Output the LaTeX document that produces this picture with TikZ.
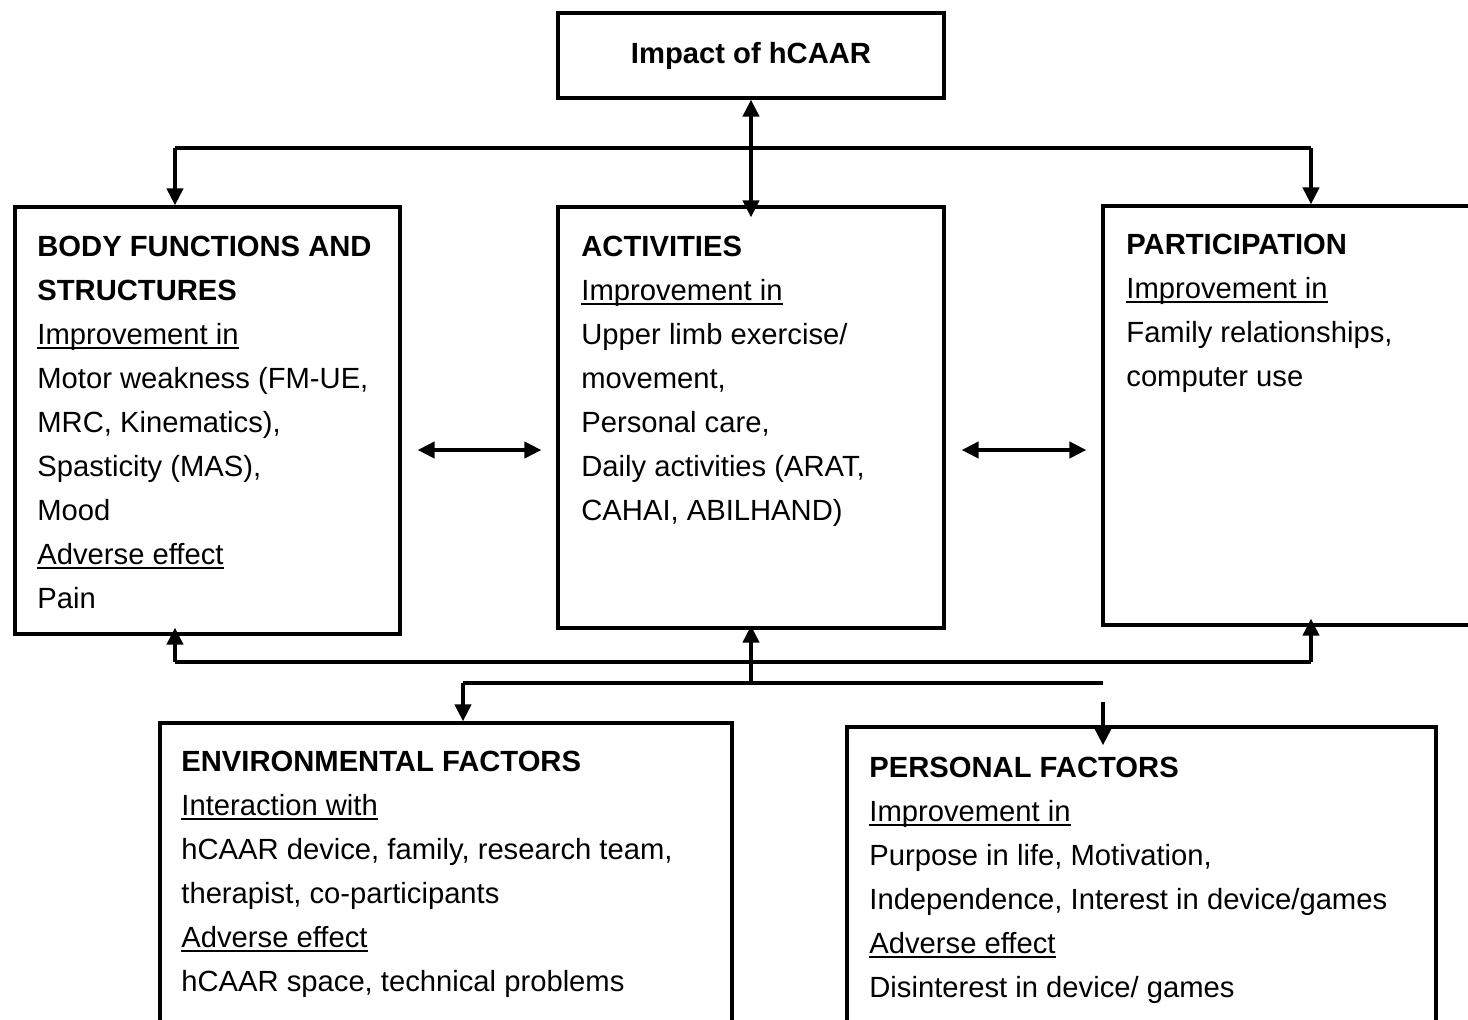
\documentclass[tikz,border=0pt]{standalone}
\usepackage{fontspec}
\setmainfont{Liberation Sans}
\usetikzlibrary{arrows.meta,fit,calc}
\newcommand\uln[1]{\setbox0\hbox{#1}\rlap{\rule[-2.3pt]{\wd0}{1.1pt}}\box0}
\newcommand\topstrut{\rule{0pt}{15pt}}
\tikzset{
  box/.style={draw, line width=1.6pt, inner sep=0pt},
  txt/.style={anchor=north west, inner sep=0pt, align=left,
    font=\fontsize{14.6pt}{22pt}\selectfont},
  conn/.style={line width=2pt},
  arr/.style={conn, -{Triangle[width=8pt,length=8.5pt]}},
  darr/.style={conn, {Triangle[width=8pt,length=8.5pt]}-{Triangle[width=8pt,length=8.5pt]}},
}
\begin{document}
\begin{tikzpicture}[x=0.5pt,y=-0.5pt]
\useasboundingbox (0,0) rectangle (1468,1019);
\clip (0,0) rectangle (1468,1019);
% boxes
\node[box, fit={(558,13) (944,98)}] (top) {};
\node[font=\fontsize{14.6pt}{22pt}\selectfont\bfseries] (toptxt) at (751,56) {Impact of hCAAR};
\node[box, fit={(15,207) (400,634)}] (body) {};
\node[box, fit={(558,207) (944,628)}] (act) {};
\node[box, fit={(1103,206) (1500,625)}] (part) {};
\node[box, fit={(160,723) (732,1060)}] (env) {};
\node[box, fit={(847,727) (1436,1060)}] (pers) {};
% texts
\node[txt] (bodytxt) at (37,226) {\topstrut\textbf{BODY FUNCTIONS AND}\\
\textbf{STRUCTURES}\\
\uln{Improvement in}\\
Motor weakness (FM-UE,\\
MRC, Kinematics),\\
Spasticity (MAS),\\
Mood\\
\uln{Adverse effect}\\
Pain};
\node[txt] (acttxt) at (581,226) {\topstrut\textbf{ACTIVITIES}\\
\uln{Improvement in}\\
Upper limb exercise/\\
movement,\\
Personal care,\\
Daily activities (ARAT,\\
CAHAI, ABILHAND)};
\node[txt] (parttxt) at (1126,224) {\topstrut\textbf{PARTICIPATION}\\
\uln{Improvement in}\\
Family relationships,\\
computer use};
\node[txt] (envtxt) at (181,741) {\topstrut\textbf{ENVIRONMENTAL FACTORS}\\
\uln{Interaction with}\\
hCAAR device, family, research team,\\
therapist, co-participants\\
\uln{Adverse effect}\\
hCAAR space, technical problems};
\node[txt] (perstxt) at (869,747) {\topstrut\textbf{PERSONAL FACTORS}\\
\uln{Improvement in}\\
Purpose in life, Motivation,\\
Independence, Interest in device/games\\
\uln{Adverse effect}\\
Disinterest in device/ games};
% junction coordinates
\coordinate (tl) at (175,148);
\coordinate (tr) at (1311,148);
\coordinate (bl) at (175,662);
\coordinate (br) at (1311,662);
\coordinate (ll) at (463,683);
\coordinate (lm) at (751,683);
\coordinate (lr) at (1103,683);
\coordinate (pa) at (1103,702);
\coordinate (mid) at (0,450);
% connectors
\draw[darr, shorten >=-6pt] (top) -- (act);
\draw[conn] (tl) -- (tr);
\draw[arr] (tl) -- (tl |- body.north);
\draw[arr] (tr) -- (tr |- part.north);
\draw[conn] (bl) -- (br);
\draw[arr, shorten >=-4pt] (bl) -- (bl |- body.south);
\draw[arr, shorten >=-4pt] (br) -- (br |- part.south);
\draw[arr, shorten >=-2pt] (lm) -- (lm |- act.south);
\draw[conn] (ll) -- (lr);
\draw[arr] (ll) -- (ll |- env.north);
\draw[arr, shorten >=-10pt] (pa) -- (pa |- pers.north);
\draw[darr] ([xshift=8pt]body.east |- mid) -- ([xshift=-7.5pt]act.west |- mid);
\draw[darr] ([xshift=8pt]act.east |- mid) -- ([xshift=-7.5pt]part.west |- mid);
\end{tikzpicture}
\end{document}
